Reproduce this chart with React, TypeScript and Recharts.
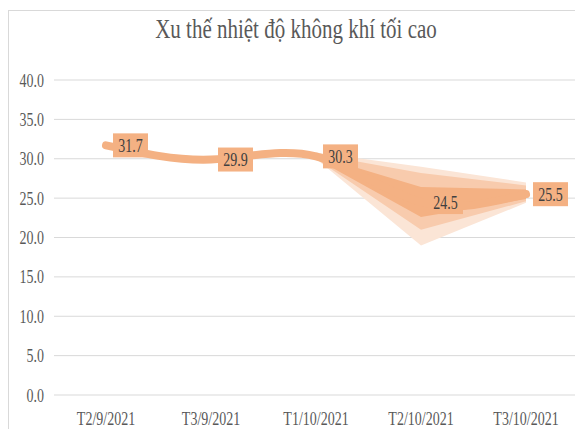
import React from "react";
import { ComposedChart, Line, Area, XAxis, YAxis, CartesianGrid } from "recharts";

const categories = ["T2/9/2021", "T3/9/2021", "T1/10/2021", "T2/10/2021", "T3/10/2021"];
const maxTemps = [31.7, 29.9, 30.3, 24.5, 25.5];
const yTicks = [0, 5, 10, 15, 20, 25, 30, 35, 40];

// shaded fan after T1/10, [low, high]
const fanOuter = [null, null, [30.0, 30.8], [19.0, 29.0], [24.4, 27.0]];
const fanMiddle = [null, null, [30.0, 30.6], [21.0, 28.2], [24.6, 26.6]];
const fanInner = [null, null, [30.0, 30.4], [22.6, 26.4], [24.9, 26.1]];

const data = categories.map((name, i) => ({
  name,
  temp: maxTemps[i],
  outer: fanOuter[i],
  middle: fanMiddle[i],
  inner: fanInner[i],
}));

const FONT = "'Liberation Serif', 'Times New Roman', serif";
const TEXT = "#595959";
const ORANGE = "#F4B183";
const STRETCH = 1.35;

const YTick = ({ x, y, payload }: any) => (
  <g transform={`translate(${x - 2},${y}) scale(1,${STRETCH})`}>
    <text textAnchor="end" dy="0.35em" fontFamily={FONT} fontSize={14} fill={TEXT}>
      {Number(payload.value).toFixed(1)}
    </text>
  </g>
);

const XTick = ({ x, y, payload }: any) => (
  <g transform={`translate(${x},${y + 15}) scale(1,${STRETCH})`}>
    <text textAnchor="middle" dy="0.35em" fontFamily={FONT} fontSize={14} fill={TEXT}>
      {payload.value}
    </text>
  </g>
);

const ValueLabel = ({ x, y, value }: any) => {
  if (x == null || y == null) return null;
  const bx = x + 7;
  return (
    <g>
      <rect x={bx} y={y - 12} width={35} height={24} fill={ORANGE} />
      <g transform={`translate(${bx + 17.5},${y}) scale(1,${STRETCH})`}>
        <text textAnchor="middle" dy="0.35em" fontFamily={FONT} fontSize={14} fill="#404040">
          {Number(value).toFixed(1)}
        </text>
      </g>
    </g>
  );
};

export default function App() {
  return (
    <div
      style={{
        position: "relative",
        top: 2,
        width: 574,
        height: 420,
        borderTop: "1px solid #D9D9D9",
        borderLeft: "1px solid #D9D9D9",
        background: "#fff",
      }}
    >
      <div
        style={{
          position: "absolute",
          top: 0,
          left: 0,
          width: 574,
          height: 36,
          lineHeight: "36px",
          textAlign: "center",
          fontFamily: FONT,
          fontSize: 21,
          color: TEXT,
          transform: `scaleY(${STRETCH})`,
        }}
      >
        Xu thế nhiệt độ không khí tối cao
      </div>
      <ComposedChart width={574} height={420} data={data} margin={{ top: 69, right: 5, bottom: 5, left: 5 }}>
        <CartesianGrid vertical={false} stroke="#D9D9D9" strokeWidth={1} />
        <XAxis
          dataKey="name"
          axisLine={false}
          tickLine={false}
          height={31}
          tick={<XTick />}
          interval={0}
          padding={{ left: 52, right: 52 }}
        />
        <YAxis
          domain={[0, 40]}
          ticks={yTicks}
          axisLine={false}
          tickLine={false}
          width={40}
          tick={<YTick />}
        />
        <Area type="linear" dataKey="outer" stroke="none" fill="#FBE5D6" fillOpacity={1} isAnimationActive={false} />
        <Area type="linear" dataKey="middle" stroke="none" fill="#F8CBAD" fillOpacity={1} isAnimationActive={false} />
        <Area type="linear" dataKey="inner" stroke="none" fill={ORANGE} fillOpacity={1} isAnimationActive={false} />
        <Line
          type="natural"
          dataKey="temp"
          stroke={ORANGE}
          strokeWidth={8}
          strokeLinecap="round"
          dot={false}
          activeDot={false}
          label={<ValueLabel />}
          isAnimationActive={false}
        />
      </ComposedChart>
    </div>
  );
}
